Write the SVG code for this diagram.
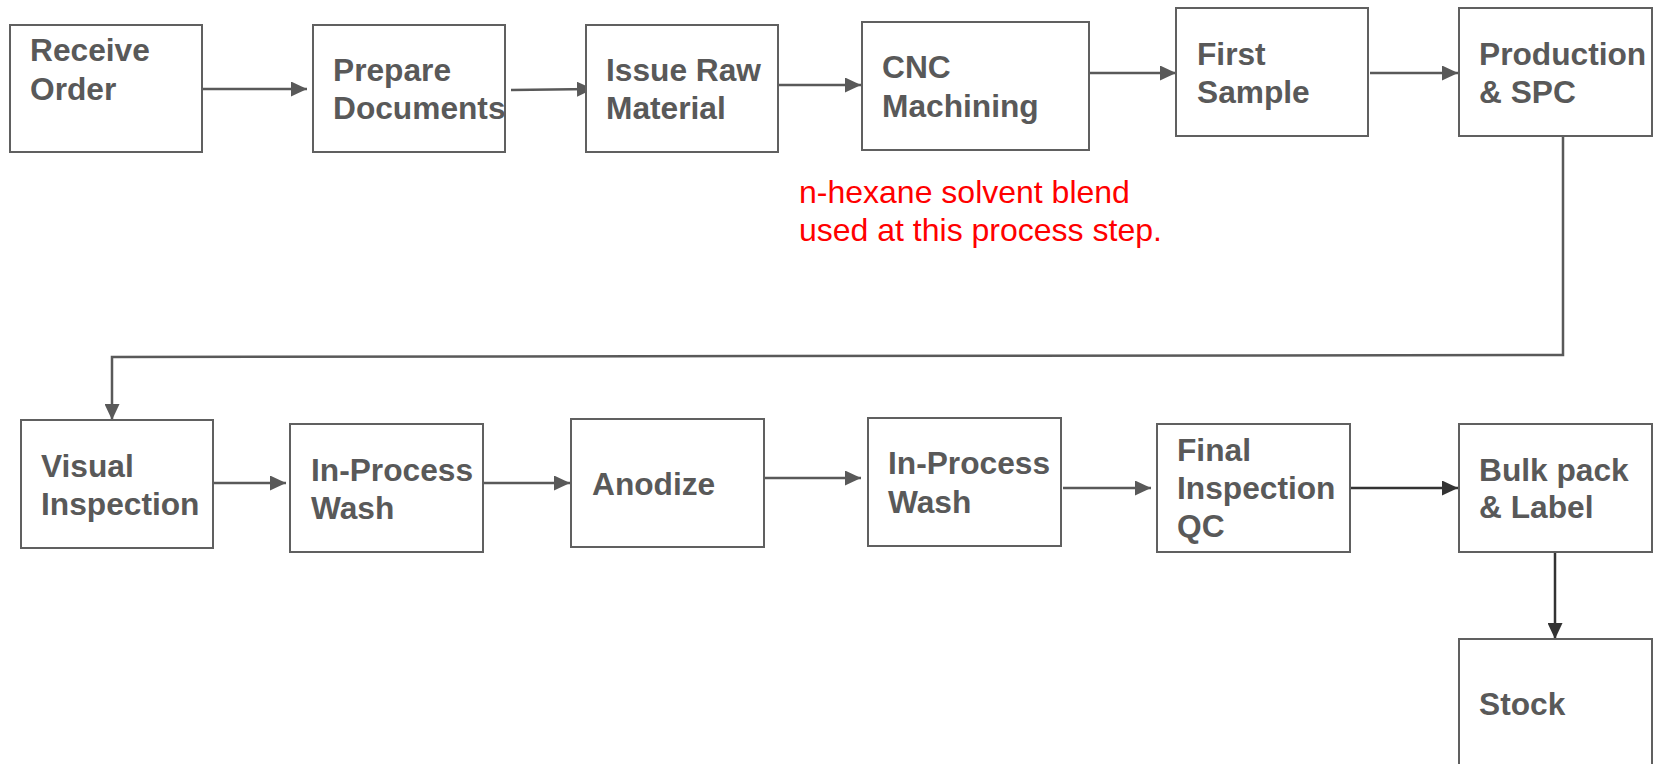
<svg xmlns="http://www.w3.org/2000/svg" width="1658" height="764" viewBox="0 0 1658 764">
<defs>
<style>
.box{fill:#ffffff;stroke:#606060;stroke-width:2}
.lbl{font-family:"Liberation Sans",Arial,sans-serif;font-weight:bold;font-size:31.7px;fill:#595959}
.note{font-family:"Liberation Sans",Arial,sans-serif;font-size:32px;fill:#ff0000}
.c{fill:none;stroke:#595959;stroke-width:2.5}
.cd{fill:none;stroke:#333333;stroke-width:2.5}
</style>
<marker id="ah" markerWidth="16" markerHeight="15" refX="16" refY="7.5" orient="auto" markerUnits="userSpaceOnUse"><path d="M0,0 L16,7.5 L0,15 z" fill="#595959"/></marker>
<marker id="ahd" markerWidth="16" markerHeight="15" refX="16" refY="7.5" orient="auto" markerUnits="userSpaceOnUse"><path d="M0,0 L16,7.5 L0,15 z" fill="#333333"/></marker>
</defs>
<rect width="1658" height="764" fill="#ffffff"/>
<g id="connectors">
<line class="c" x1="202" y1="89" x2="307" y2="89" marker-end="url(#ah)"/>
<line class="c" x1="511" y1="90" x2="593" y2="89" marker-end="url(#ah)"/>
<line class="c" x1="774" y1="85" x2="861" y2="85" marker-end="url(#ah)"/>
<line class="c" x1="1089" y1="73" x2="1176" y2="73" marker-end="url(#ah)"/>
<line class="c" x1="1370" y1="73" x2="1458" y2="73" marker-end="url(#ah)"/>
<polyline class="c" points="1563,130 1563,355 112,357 112,420" marker-end="url(#ah)"/>
<line class="c" x1="213" y1="483" x2="286" y2="483" marker-end="url(#ah)"/>
<line class="c" x1="483" y1="483" x2="570" y2="483" marker-end="url(#ah)"/>
<line class="c" x1="764" y1="478" x2="861" y2="478" marker-end="url(#ah)"/>
<line class="c" x1="1063" y1="488" x2="1151" y2="488" marker-end="url(#ah)"/>
<line class="cd" x1="1350" y1="488" x2="1458" y2="488" marker-end="url(#ahd)"/>
<line class="cd" x1="1555" y1="552" x2="1555" y2="639" marker-end="url(#ahd)"/>
</g>
<g id="receive-order"><rect class="box" x="10" y="25" width="192" height="127"/><text class="lbl" x="30" y="61">Receive</text><text class="lbl" x="30" y="100">Order</text></g>
<g id="prepare-documents"><rect class="box" x="313" y="25" width="192" height="127"/><text class="lbl" x="333" y="81">Prepare</text><text class="lbl" x="333" y="119">Documents</text></g>
<g id="issue-raw-material"><rect class="box" x="586" y="25" width="192" height="127"/><text class="lbl" x="606" y="81">Issue Raw</text><text class="lbl" x="606" y="119">Material</text></g>
<g id="cnc-machining"><rect class="box" x="862" y="22" width="227" height="128"/><text class="lbl" x="882" y="78">CNC</text><text class="lbl" x="882" y="117">Machining</text></g>
<g id="first-sample"><rect class="box" x="1176" y="8" width="192" height="128"/><text class="lbl" x="1197" y="65">First</text><text class="lbl" x="1197" y="103">Sample</text></g>
<g id="production-spc"><rect class="box" x="1459" y="8" width="193" height="128"/><text class="lbl" x="1479" y="65">Production</text><text class="lbl" x="1479" y="103">&amp; SPC</text></g>
<g id="note"><text class="note" x="799" y="203">n-hexane solvent blend</text><text class="note" x="799" y="241">used at this process step.</text></g>
<g id="visual-inspection"><rect class="box" x="21" y="420" width="192" height="128"/><text class="lbl" x="41" y="477">Visual</text><text class="lbl" x="41" y="515">Inspection</text></g>
<g id="in-process-wash-1"><rect class="box" x="290" y="424" width="193" height="128"/><text class="lbl" x="311" y="481">In-Process</text><text class="lbl" x="311" y="519">Wash</text></g>
<g id="anodize"><rect class="box" x="571" y="419" width="193" height="128"/><text class="lbl" x="592" y="495">Anodize</text></g>
<g id="in-process-wash-2"><rect class="box" x="868" y="418" width="193" height="128"/><text class="lbl" x="888" y="474">In-Process</text><text class="lbl" x="888" y="513">Wash</text></g>
<g id="final-inspection-qc"><rect class="box" x="1157" y="424" width="193" height="128"/><text class="lbl" x="1177" y="461">Final</text><text class="lbl" x="1177" y="499">Inspection</text><text class="lbl" x="1177" y="537">QC</text></g>
<g id="bulk-pack-label"><rect class="box" x="1459" y="424" width="193" height="128"/><text class="lbl" x="1479" y="481">Bulk pack</text><text class="lbl" x="1479" y="518">&amp; Label</text></g>
<g id="stock"><rect class="box" x="1459" y="639" width="193" height="140"/><text class="lbl" x="1479" y="715">Stock</text></g>
</svg>
